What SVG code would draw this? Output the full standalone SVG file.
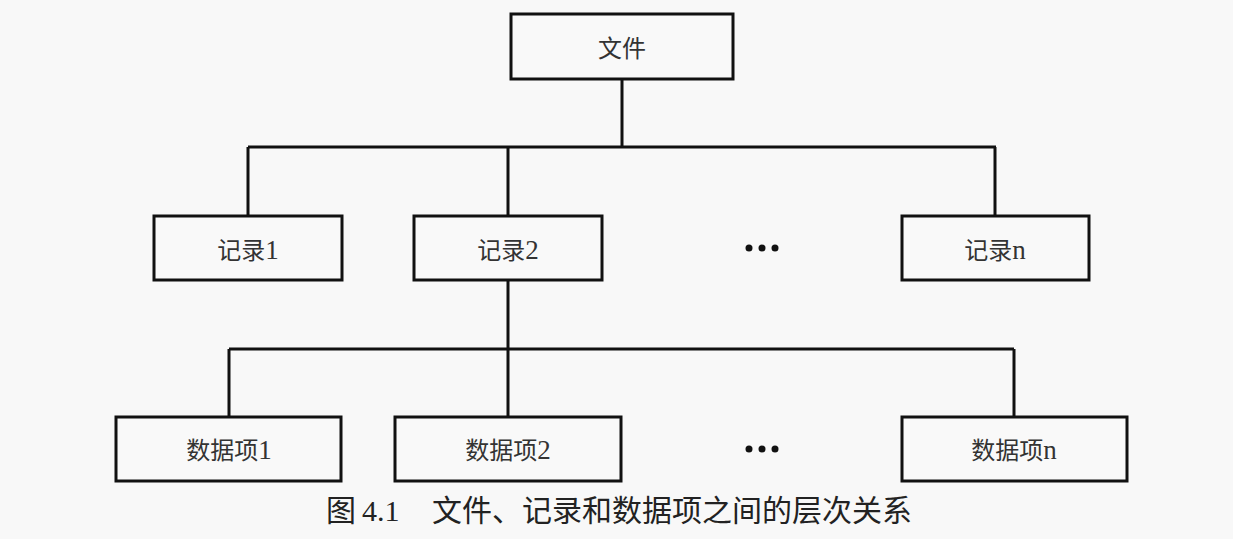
<svg xmlns="http://www.w3.org/2000/svg" width="1233" height="539" viewBox="0 0 1233 539">
<style>
.box{fill:#f9f9f9;stroke:#111;stroke-width:3}
.lbl{font-family:"Liberation Serif","Noto Sans CJK SC",serif;font-size:24px;fill:#333;text-anchor:middle}
.d{font-size:27px}
.conn{fill:none;stroke:#111;stroke-width:3}
.dot{fill:#111}
.cap{font-family:"Liberation Serif","Noto Sans CJK SC",serif;font-size:30px;fill:#222}
</style>
<rect x="0" y="0" width="1233" height="539" fill="#f8f8f8"/>
<g id="connectors">
<path class="conn" d="M622 79V147M248 147H996M248 147V216M508 147V216M995 147V216"/>
<path class="conn" d="M508 280V349M229 349H1014M229 349V417M508 349V417M1014 349V417"/>
</g>
<g id="file"><rect class="box" x="511" y="14" width="222" height="65"/><text class="lbl" x="622" y="57">文件</text></g>
<g id="rec1"><rect class="box" x="154" y="216" width="188" height="64"/><text class="lbl" x="248" y="259">记录<tspan class="d">1</tspan></text></g>
<g id="rec2"><rect class="box" x="414" y="216" width="188" height="64"/><text class="lbl" x="508" y="259">记录<tspan class="d">2</tspan></text></g>
<g id="recdots"><circle class="dot" cx="749" cy="248" r="3.5"/><circle class="dot" cx="762" cy="248" r="3.5"/><circle class="dot" cx="775" cy="248" r="3.5"/></g>
<g id="recn"><rect class="box" x="902" y="216" width="187" height="64"/><text class="lbl" x="995" y="259">记录<tspan class="d">n</tspan></text></g>
<g id="item1"><rect class="box" x="116" y="417" width="225" height="64"/><text class="lbl" x="229" y="459">数据项<tspan class="d">1</tspan></text></g>
<g id="item2"><rect class="box" x="395" y="417" width="226" height="64"/><text class="lbl" x="508" y="459">数据项<tspan class="d">2</tspan></text></g>
<g id="itemdots"><circle class="dot" cx="749" cy="449" r="3.5"/><circle class="dot" cx="762" cy="449" r="3.5"/><circle class="dot" cx="775" cy="449" r="3.5"/></g>
<g id="itemn"><rect class="box" x="902" y="417" width="225" height="64"/><text class="lbl" x="1014" y="459">数据项<tspan class="d">n</tspan></text></g>
<g id="caption"><text class="cap" y="521"><tspan x="326">图</tspan><tspan x="362">4.1</tspan><tspan x="432">文件、记录和数据项之间的层次关系</tspan></text></g>
</svg>
